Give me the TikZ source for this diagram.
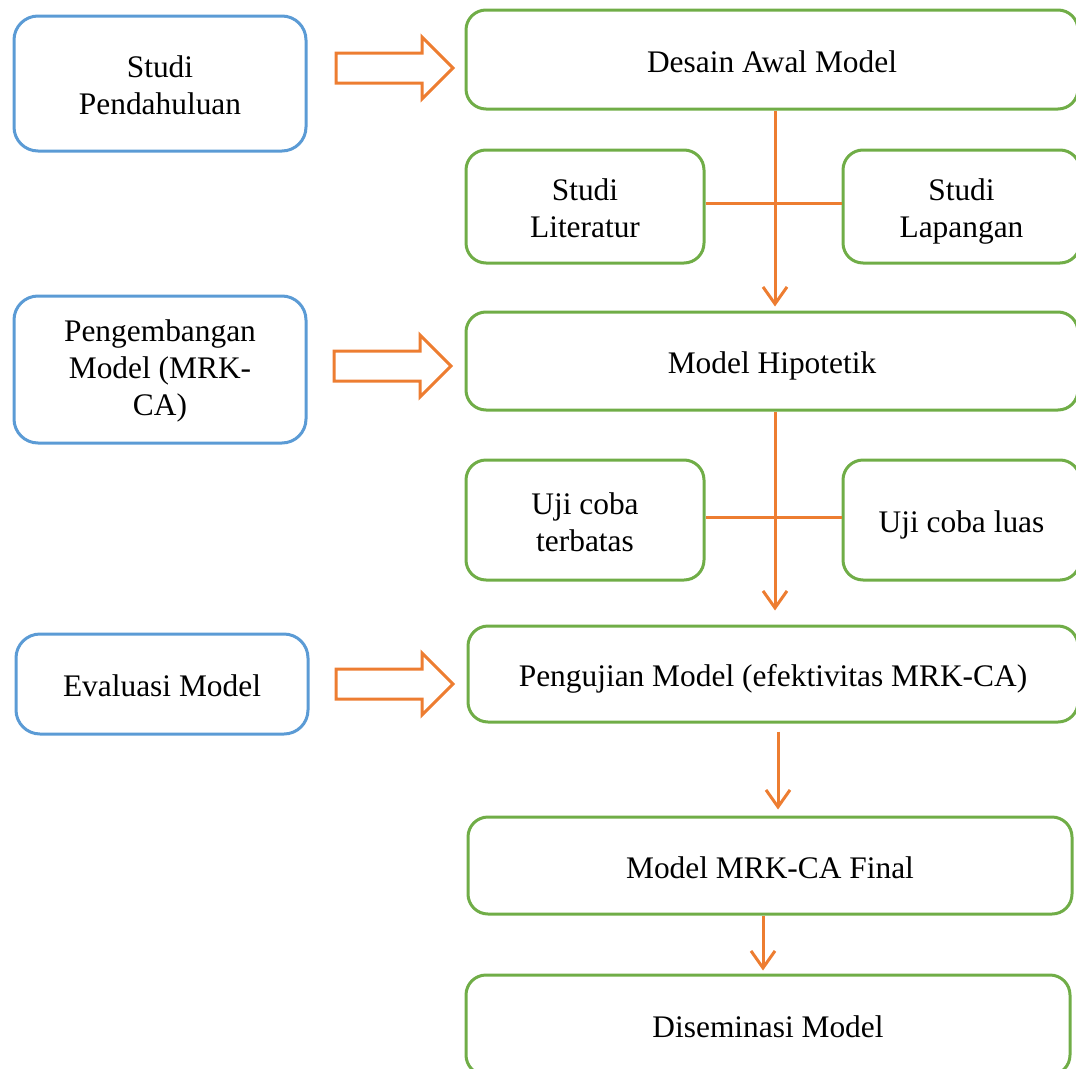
\documentclass[tikz,border=0pt]{standalone}
\usepackage{fontspec}
\setmainfont{Liberation Serif}
\usetikzlibrary{arrows.meta,calc}
\definecolor{bblue}{HTML}{5B9BD5}
\definecolor{bgreen}{HTML}{70AD47}
\definecolor{borange}{HTML}{ED7D31}
\newcommand\mystrut{\rule[-6pt]{0pt}{37pt}}
\tikzset{
  box/.style={draw, line width=3pt, rounded corners=24pt, align=center,
    font=\fontsize{31.4}{37}\selectfont, inner sep=0pt,
    execute at begin node=\mystrut, execute at end node=\mystrut},
  topstrut/.style={execute at begin node={\rule[-6pt]{0pt}{#1}}},
  twoline/.style={topstrut=74pt},
  threeline/.style={topstrut=105pt},
  bluebox/.style={box, draw=bblue},
  greenbox/.style={box, draw=bgreen, rounded corners=20pt},
  link/.style={draw=borange, line width=3pt},
  arr/.style={link, -{Straight Barb[length=17pt,width=24pt]}},
  blockarrow/.pic={\draw[borange, line width=3pt, line join=miter]
    (0,-15) -- (86,-15) -- (86,-31) -- (117,0) -- (86,31) -- (86,15) -- (0,15) -- cycle;}
}
\begin{document}
\begin{tikzpicture}[x=1pt,y=-1pt]
\useasboundingbox (0,0) rectangle (1076,1068);
% left (blue)
\node[bluebox, twoline, minimum width=292pt, minimum height=135pt] (sp) at (160,83.5) {Studi\\Pendahuluan};
\node[bluebox, threeline, minimum width=292pt, minimum height=147pt] (pm) at (160,369.5) {Pengembangan\\Model (MRK-\\CA)};
\node[bluebox, minimum width=292pt, minimum height=100pt] (em) at (162,684) {Evaluasi Model};
% right (green)
\node[greenbox, minimum width=612pt, minimum height=99pt] (da) at (772,59.5) {Desain Awal Model};
\node[greenbox, twoline, minimum width=238pt, minimum height=113pt] (sl) at (585,206.5) {Studi\\Literatur};
\node[greenbox, twoline, minimum width=237pt, minimum height=113pt] (slap) at (961.5,206.5) {Studi\\Lapangan};
\node[greenbox, minimum width=612pt, minimum height=98pt] (mh) at (772,361) {Model Hipotetik};
\node[greenbox, twoline, minimum width=238pt, minimum height=120pt] (ut) at (585,520) {Uji coba\\terbatas};
\node[greenbox, minimum width=237pt, minimum height=120pt] (ul) at (961.5,520) {Uji coba luas};
\node[greenbox, minimum width=610pt, minimum height=96pt] (pg) at (773,674) {Pengujian Model (efektivitas MRK-CA)};
\node[greenbox, minimum width=604pt, minimum height=97pt] (mf) at (770,865.5) {Model MRK-CA Final};
\node[greenbox, minimum width=604pt, minimum height=100pt] (dm) at (768,1025) {Diseminasi Model};
% block arrows
\pic at (336,68) {blockarrow};
\pic at (334,366) {blockarrow};
\pic at (336,684) {blockarrow};
% connectors
\coordinate (t1) at ($(mh.north)+(3,-4)$);
\draw[arr] ($(da.south)+(3,0)$) -- (t1);
\draw[link] ($(sl.east)+(0,-3.5)$) -- ($(slap.west)+(0,-3.5)$);
\coordinate (t2) at ($(pg.north)+(2,-14)$);
\draw[arr] ($(mh.south)+(3,0)$) -- (t2);
\draw[link] ($(ut.east)+(0,-3)$) -- ($(ul.west)+(0,-3)$);
\coordinate (t3) at ($(mf.north)+(8,-6)$);
\draw[arr] ($(pg.south)+(5,8)$) -- (t3);
\coordinate (t4) at ($(dm.north)+(-5,-3)$);
\draw[arr] ($(mf.south)+(-7,0)$) -- (t4);
\end{tikzpicture}
\end{document}
